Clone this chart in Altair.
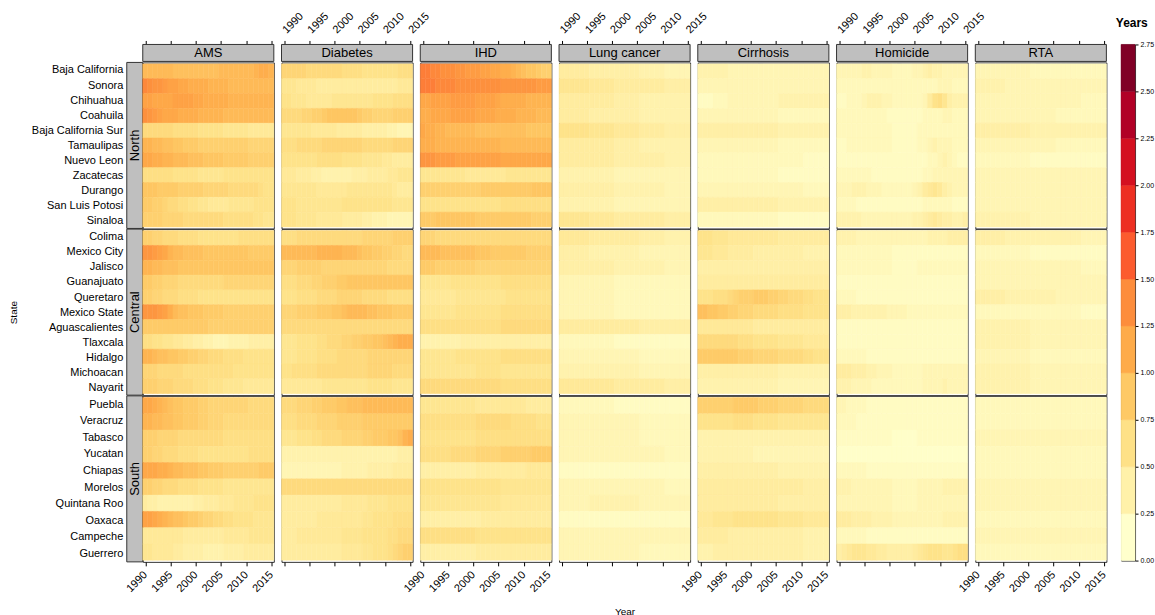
import altair as alt
import pandas as pd

FONT = "Liberation Sans"

YEARS = list(range(1990, 2016))
TICK_YEARS = [1990, 1995, 2000, 2005, 2010, 2015]
CAUSES = ["AMS", "Diabetes", "IHD", "Lung cancer", "Cirrhosis", "Homicide", "RTA"]
REGIONS = ["North", "Central", "South"]

NORTH = ["Baja California", "Sonora", "Chihuahua", "Coahuila", "Baja California Sur",
         "Tamaulipas", "Nuevo Leon", "Zacatecas", "Durango", "San Luis Potosi", "Sinaloa"]
CENTRAL = ["Colima", "Mexico City", "Jalisco", "Guanajuato", "Queretaro", "Mexico State",
           "Aguascalientes", "Tlaxcala", "Hidalgo", "Michoacan", "Nayarit"]
SOUTH = ["Puebla", "Veracruz", "Tabasco", "Yucatan", "Chiapas", "Morelos", "Quintana Roo",
         "Oaxaca", "Campeche", "Guerrero"]
STATES = {"North": NORTH, "Central": CENTRAL, "South": SOUTH}

# Years lost per state and year. One string per state (North, Central, South
# order as above), one character per year from 1990 to 2015: character k of
# CODE stands for k * 0.05 years. Spaces only separate 1990-95 and the
# following five-year blocks.
CODE = "0123456789abcdefghijklmnopqrstuvwxyz"
STEP = 0.05

AMS = [
    "kkkkkk jjjjj jjjjk kkkkk klmml", "srqqpo onnmm mmlll lkkkk kkkkk",
    "oonnnn oooon nmmmm mllll lllll", "rqponn nmmmm lllll kkkkk kkkkk",
    "eeeeee ddddd ccccc bbbbb aaaaa", "llkkjj iihhh ggggg ggggg fffff",
    "nnmmll kkkjj jiiii hhhhh ggggg", "dddddd ccccc bbbbb ccccc ccccc",
    "iiihhh hgggg gffff feeee eedcc", "hhggfe eddcc bbaaa abbbb bcccc",
    "ggggff ffeee eeeee ddddd dccbb",
    "ggffee edddd ccccc cccdd ddddd", "qqponl kkjjj jiiii iiiii hhhhh",
    "llkkjj jiiii iiiii iiiii iiiii", "hhggff feeee eeeee fffff fffff",
    "ggffee edddd ccccc ccccc ccccc", "qqqpom kjjii ihhhh ggggg ggggg",
    "hhhhhh hhhhh hhggg ggggg ggggg", "ddccbb aa998 87766 67777 88888",
    "llkjji ihhgg ffeee ddddc ccccc", "fffeee eeddd ddddd ddccc ccccc",
    "gggfff eeeed ddccc bbbba aaaaa",
    "nnmlkj iihhh ggfff fffff eeeee", "llkkjj iihhh ggfff eeeee eeeee",
    "gggfff feeee eeeee ddddd ddddd", "ggffee edddd ccccc ccccc ddddd",
    "nnnmml kkjjj iihhh ggggg gghhh", "ggffee edddd ccccc bbbbb bbbbb",
    "988777 77778 8999a aabbb bcccc", "oonmlk jjihh gffee ddccc cbbbb",
    "aaaaaa aa999 99999 aaaaa bbbbb", "bbaaaa 99888 87777 88889 99999",
]
DIABETES = [
    "fffffe eeeee edddd ccccc ccddd", "bbbaaa a9999 99999 99999 99aaa",
    "ccbbba aaaab bbbbb bbccc cdddd", "eeeeff gghii iiiih ggfff fgggg",
    "bbbbbb aaaaa 99999 88888 77666", "dddeee eefff fffff eeeee effff",
    "cccccc cdddd dcccc bbbba a9999", "aaa999 88777 77788 89999 aabbb",
    "bbbbbb baaaa aabbb bbbbb ba999", "cccbbb bbbbb bcccc ccccc cbbbb",
    "cccbbb baaaa a9999 88777 66666",
    "dddeee eeeee eeeee fffff fgggg", "kkkkkk kllll lkkkj iihhg gffee",
    "fffggg ggfff fffff fffff eeeee", "dddeee ffggg hhiii iiiii iiiii",
    "cccddd deeee fffff eeeee ddddd", "fffggg ghhhi ijkkk kjjii ihhhh",
    "eeeeee eeeee eeeee eeeee eeeee", "bbbccc cddee effgg hhiij klmmm",
    "bbbccc cdddd eeeee effff fffff", "ccdddd deeee eeeee effff feeee",
    "aaaaaa aabbb bbbbb bcccc cbbbb",
    "eeefff gghhh iijjj kkkkk kkkkk", "dddeee effff ggggg hhhhh hhhhh",
    "bbbccc ddeee effff gghhh iijlm", "777777 77777 77777 77777 77888",
    "666666 66666 67777 78888 89999", "eeeeee eeeee eeeee eeeee eeeee",
    "999999 99999 9aaaa abbbb ccccc", "999999 9aaaa aaaaa bbccc cdddd",
    "999aaa aaaaa abbbb ccccc ddeee", "999999 99999 9aaaa bbccc defgg",
]
IHD = [
    "ttssrr rqqpp poonn mmlkj iihgg", "tttsss srrrr rrrrr qqqqq qqppp",
    "nnoooo ppppp oooon mmmmm lllll", "mmnnnn ooooo nnnnm mmmll llkkk",
    "nmmllk kkkkk jjjjj jjjjj iiiii", "mmmlll lllll lllll kkkkk kkkkk",
    "qqqppp poooo ooooo nnnnn nnnnn", "bbbbbb bbbaa aaaaa abbbb bbbbb",
    "gggggg ggggg ghhhh hhhhh hiiii", "cccccc ccccc ccccc ddddd ddddd",
    "hhhiii iiiii hhhhh hhhhh hgggg",
    "fffeee eeeee eeeee eeeee eeeee", "kkkkjj jjjjj iiihh hhhhh ggggg",
    "hhhggg ggggg fffff fffff fffff", "bbbbbb ccccc ccccc ddddd ddddd",
    "aaaaaa abbbb bbbbb bcccc ccccc", "bbbbbb bcccc ccccc ddddd ddddd",
    "dddddd ddddd ddddd eeeee eeeee", "777777 77888 88888 88888 88888",
    "bbbbbb bcccc ccccc ddddd ddddd", "bbbbbb bbbbb ccccc bbbbb bbbbb",
    "eeeeee eeeee eeeee ddddd ddddd",
    "bbbbbb bbbbb aaaaa aaaaa 99999", "dddddd ddddd eeeee eeddd ddccc",
    "cccccc ccccc ddddd ddddd ddddd", "dddddd eeeee fffff ggggg ghhhh",
    "888888 88888 99999 99999 aaaaa", "cccccc ccccc ccccc bbbbb bbbbb",
    "bbbbbb bbbbb bbbbb aaaaa aaaaa", "888888 88888 89999 99999 99999",
    "dddddd ddddd ccccc ccccc ccccc", "888888 88888 99999 99999 99999",
]
LUNG_CANCER = [
    "999999 88888 88888 77777 66666", "bbbbbb aaaaa 99999 99999 88888",
    "999999 99999 88888 77777 77777", "999999 88888 88888 77777 77777",
    "cccccc bbbbb aaaaa 99999 88888", "999999 99999 88888 77777 77777",
    "999999 99999 88888 88888 77777", "777777 77777 66666 66666 66666",
    "888888 88888 77777 77777 66666", "777777 77777 66666 66666 66666",
    "bbbbbb aaaaa 99999 99999 88888",
    "aaaaaa 99999 99999 88888 77777", "888888 77777 77777 66666 66666",
    "888888 88888 77777 77777 66666", "666666 66666 55555 55555 55555",
    "666666 66666 55555 55555 55555", "666666 66666 55555 55555 55555",
    "999999 99999 99999 88888 88888", "555555 55555 44444 44444 44444",
    "666666 66666 66666 55555 55555", "777777 77777 77777 66666 66666",
    "aaaaaa aaaaa 99999 99999 88888",
    "555555 55555 44444 44444 44444", "666666 66666 66666 55555 55555",
    "666666 66666 66666 55555 55555", "666666 66666 66666 66666 55555",
    "444444 44444 44444 44444 44444", "666666 66666 66666 66666 55555",
    "666666 77777 77777 66666 66666", "444444 44444 44444 44444 44444",
    "666666 66666 66666 66666 66666", "666666 66666 66666 55555 55555",
]
CIRRHOSIS = [
    "777777 66666 66666 66666 66666", "666666 66666 66666 66666 66666",
    "444555 66666 66666 77777 77777", "666666 66666 66666 55555 55555",
    "888888 88888 88888 77777 77777", "666666 66666 66666 55555 55555",
    "555555 55555 55555 55555 44444", "555555 55555 55555 44444 44444",
    "666666 66666 66666 66666 55555", "888888 88888 88888 77777 77777",
    "555555 55555 55555 44444 44444",
    "cccbbb aaaaa aaaaa 99999 99999", "bbbaaa 99999 88888 88888 77777",
    "888888 88888 88888 88888 88888", "999999 99999 99999 99999 99999",
    "cccddd efggg hhhgg ffeee ddccc", "jjiihh ggfff eeeee ddddd ccccc",
    "aaaaaa aaaaa 99999 99999 99999", "eeeeee eeddd ccccc bbbbb aaaaa",
    "hhhhhh hhggg fffff eeeee ddccc", "888888 88888 88888 77777 77777",
    "777777 77777 77777 66666 66666",
    "gggggg ghhhh hgggg fffff eeeee", "cccccc cdddd ccccc bbbbb bbbbb",
    "777777 77777 77777 77777 77777", "777777 77777 66666 66666 66666",
    "888888 88888 88888 77777 77777", "999999 99999 99999 99999 88888",
    "999999 99999 99999 88888 88888", "aaabbb bcccc ccccc bbbbb aaaaa",
    "999999 88888 88888 88888 77777", "777888 88888 88888 88888 77777",
]
HOMICIDE = [
    "666667 76666 55556 67877 66666", "555555 55555 55555 55556 66555",
    "445556 77766 55555 569cd b8777", "555555 55554 44444 45555 66555",
    "555555 55555 44444 55555 55555", "445555 55555 44444 55676 66555",
    "444444 44444 44444 44556 76544", "555555 54444 44444 45566 66666",
    "666777 66655 55556 79aba 87666", "555544 44444 44444 45555 55444",
    "777776 66666 66667 789a9 88778",
    "777766 66666 66666 66777 78888", "555555 55555 44444 44444 44444",
    "555555 55555 44444 55555 55555", "444444 44444 44444 44444 44444",
    "555544 44444 44444 44444 44444", "888777 77776 66655 55555 55555",
    "444444 44444 44444 44444 44444", "444444 44444 44444 44444 44444",
    "555555 44444 44444 44444 44444", "999888 77666 55555 56666 66666",
    "777666 65555 55555 56666 76666",
    "665555 44444 44444 44444 44444", "555544 44444 44444 44444 44444",
    "444444 44444 33333 44444 44444", "333333 33333 33333 33333 33333",
    "555555 44444 44444 44444 44444", "777666 66666 55555 66666 77777",
    "666666 66666 55555 66666 66666", "999888 87777 66666 66666 77777",
    "555555 44444 44444 44444 44444", "89abbb aa998 88889 abccc bbcdd",
]
RTA = [
    "666666 66666 55555 55555 55555", "777777 66666 66666 66666 66666",
    "666666 66666 66666 66666 55555", "666666 66666 66666 55555 55555",
    "888888 88888 77777 77777 77777", "666666 66666 66666 55555 55555",
    "555555 55555 44444 44444 44444", "666666 66666 66666 66666 66666",
    "666666 66666 66666 66666 66666", "666666 66666 66666 66666 66666",
    "777777 77777 66666 66666 66666",
    "888888 77777 77777 77777 66666", "555555 55555 44444 44444 44444",
    "666666 66666 66666 66666 55555", "666666 66666 66666 66666 66666",
    "888888 77777 77777 66666 66666", "555555 55555 55555 55555 44444",
    "777777 77777 66666 66666 66666", "777777 77777 66666 66666 66666",
    "666666 66666 55555 55555 55555", "777777 77777 66666 66666 66666",
    "777777 77777 66666 66666 66666",
    "555555 55555 55555 55555 55555", "555555 55555 55555 55555 55555",
    "666666 66666 66666 66666 66666", "555555 55555 55555 55555 55555",
    "555555 55555 55555 55555 55555", "666666 66666 66666 66666 66666",
    "666666 66666 66666 66666 66666", "555555 55555 55555 55555 55555",
    "666666 66666 66666 66666 66666", "555555 55555 55555 55555 55555",
]
SERIES = {"AMS": AMS, "Diabetes": DIABETES, "IHD": IHD, "Lung cancer": LUNG_CANCER,
          "Cirrhosis": CIRRHOSIS, "Homicide": HOMICIDE, "RTA": RTA}

# Colour key: 11 bins of 0.25 years, YlOrRd ramp
KEY_LOW = [0.00, 0.25, 0.50, 0.75, 1.00, 1.25, 1.50, 1.75, 2.00, 2.25, 2.50]
KEY_HIGH = [0.25, 0.50, 0.75, 1.00, 1.25, 1.50, 1.75, 2.00, 2.25, 2.50, 2.75]
KEY_TICKS = [0.00, 0.25, 0.50, 0.75, 1.00, 1.25, 1.50, 1.75, 2.00, 2.25, 2.50, 2.75]
KEY_COLORS = ["#FFFFCC", "#FFF1A9", "#FEE187", "#FEC965", "#FEAB49", "#FD8D3C",
              "#FC5B2E", "#ED2F22", "#D41020", "#B10026", "#800026"]

# ---- long table -------------------------------------------------------------
records = []
for cause in CAUSES:
    states = [(r, s) for r in REGIONS for s in STATES[r]]
    for (region, state), row in zip(states, SERIES[cause]):
        for year, ch in zip(YEARS, row.replace(" ", "")):
            records.append({"cause": cause, "region": region, "state": state,
                            "year": year, "value": round(CODE.index(ch) * STEP, 2)})
data = pd.DataFrame(records)

# ---- sizes ------------------------------------------------------------------
PW = 131.3      # panel width
PH = 166.3      # panel height
SH = 18         # strip row height
LW = 16         # left (region strip) column width
GAP = 7         # gap between panel columns
STRIP_FILL = "#bfbfbf"
FRAME = "#333333"

color_scale = alt.Scale(domain=[(lo + hi) / 2 for lo, hi in zip(KEY_LOW, KEY_HIGH)],
                        range=KEY_COLORS, interpolate="rgb", clamp=True)
year_scale = alt.Scale(domain=[1989.5, 2015.5], nice=False, zero=False)
no_frame = alt.ViewBackground(stroke="transparent")


def year_axis(orient, show_labels, title=None, title_padding=0):
    bottom = orient == "bottom"
    opts = dict(orient=orient, values=TICK_YEARS, format="d", tickSize=4,
                tickColor="black", tickWidth=1, domain=False, grid=False, labelAngle=-45,
                labelAlign="right" if bottom else "left",
                labelBaseline="middle", labelPadding=7 if bottom else 9,
                labelFontSize=11, labelColor="black", labelOverlap=False,
                labelFlush=False, title=title, titleFontSize=10,
                titleFontWeight="normal", titlePadding=title_padding)
    if not show_labels:
        opts["labels"] = False
    return alt.Axis(**opts)


def state_scale(region):
    return alt.Scale(domain=STATES[region], paddingInner=0, paddingOuter=0.1)


def panel(cause, region, ci, ri):
    if ri == len(REGIONS) - 1:
        is_mid = cause == "Lung cancer"
        axis = year_axis("bottom", ci % 2 == 0,
                         title="Year" if is_mid else None,
                         title_padding=40 if is_mid else 0)
    else:
        axis = None
    return alt.Chart(data).transform_filter(
        (alt.datum.cause == cause) & (alt.datum.region == region)
    ).transform_calculate(
        x0="datum.year - 0.5", x1="datum.year + 0.5"
    ).mark_rect(strokeWidth=0.5).encode(
        x=alt.X("x0:Q", scale=year_scale, axis=axis),
        x2="x1:Q",
        y=alt.Y("state:N", scale=state_scale(region), axis=None),
        color=alt.Color("value:Q", scale=color_scale, legend=None),
        stroke=alt.Stroke("value:Q", scale=color_scale, legend=None),
    ).properties(width=PW, height=PH)


def cause_strip(cause, ci):
    one = pd.DataFrame({"label": [cause]})
    box = alt.Chart(one).mark_rect(fill=STRIP_FILL, stroke=FRAME, strokeWidth=1).encode(
        x=alt.value(0), x2=alt.value(PW), y=alt.value(0), y2=alt.value(SH - 1))
    txt = alt.Chart(one).mark_text(fontSize=13, baseline="middle", color="black").encode(
        x=alt.value(PW / 2), y=alt.value((SH - 1) / 2 + 0.5), text="label:N")
    ticks = alt.Chart(pd.DataFrame({"year": TICK_YEARS})).mark_point(opacity=0).encode(
        x=alt.X("year:Q", scale=year_scale, axis=year_axis("top", ci % 2 == 1)))
    return alt.layer(box, txt, ticks).properties(width=PW, height=SH, view=no_frame)


def region_strip(region, ri):
    one = pd.DataFrame({"label": [region]})
    names = alt.Chart(pd.DataFrame({"state": STATES[region]})).mark_point(opacity=0).encode(
        y=alt.Y("state:N", scale=state_scale(region),
                axis=alt.Axis(orient="left", ticks=False, domain=False, labelFontSize=11,
                              labelColor="black", labelPadding=4, offset=-(LW + GAP - 16),
                              title="State" if ri == 1 else None, titleFontSize=10,
                              titleFontWeight="normal", titlePadding=30)))
    box = alt.Chart(one).mark_rect(fill=STRIP_FILL, stroke=FRAME, strokeWidth=1).encode(
        x=alt.value(LW + GAP - 16), x2=alt.value(LW + GAP), y=alt.value(0), y2=alt.value(PH))
    txt = alt.Chart(one).mark_text(fontSize=13, angle=270, baseline="middle", color="black").encode(
        x=alt.value(LW + GAP - 8), y=alt.value(PH / 2), text="label:N")
    return alt.layer(names, box, txt).properties(width=LW, height=PH, view=no_frame)


corner = alt.Chart(pd.DataFrame({"k": [0]})).mark_point(opacity=0).encode(
    x=alt.value(0), y=alt.value(0)).properties(width=LW, height=SH, view=no_frame)

cells = [corner] + [cause_strip(c, i) for i, c in enumerate(CAUSES)]
for ri, region in enumerate(REGIONS):
    cells.append(region_strip(region, ri))
    cells += [panel(c, region, ci, ri) for ci, c in enumerate(CAUSES)]

grid = alt.concat(*cells, columns=len(CAUSES) + 1,
                  spacing={"row": 0, "column": GAP}, bounds="flush", align="each")

key = alt.Chart(pd.DataFrame({"lo": KEY_LOW, "hi": KEY_HIGH})).transform_calculate(
    mid="(datum.lo + datum.hi) / 2"
).mark_rect(strokeWidth=0.5).encode(
    x=alt.value(0), x2=alt.value(14),
    y=alt.Y("lo:Q", scale=alt.Scale(domain=[0, 2.75], nice=False, zero=True),
            axis=alt.Axis(orient="right", values=KEY_TICKS, format=".2f", labelFontSize=7,
                          labelColor="black", tickSize=3, tickColor="black", domain=False,
                          grid=False, labelPadding=2, title=None)),
    y2="hi:Q",
    color=alt.Color("mid:Q", scale=color_scale, legend=None),
    stroke=alt.Stroke("mid:Q", scale=color_scale, legend=None),
).properties(width=14, height=517,
             title=alt.TitleParams("Years", anchor="start", fontSize=12, fontWeight="bold",
                                   dx=-5, offset=10, color="black"))

chart = alt.hconcat(grid, key, spacing=7).properties(
    padding={"left": 7, "top": 8, "right": 0, "bottom": 0}
).configure(font=FONT).configure_view(
    stroke=FRAME, strokeWidth=1
).configure_axis(labelFont=FONT, titleFont=FONT, titleColor="black")

chart.save("out.html", embed_options={"renderer": "svg", "actions": False})
